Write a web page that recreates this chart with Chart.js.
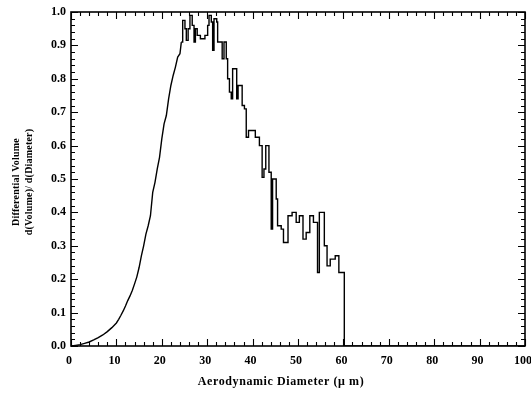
<!DOCTYPE html>
<html>
<head>
<meta charset="utf-8">
<script src="https://cdn.jsdelivr.net/npm/chart.js@4.4.1/dist/chart.umd.min.js"></script>
<style>
  html, body { margin: 0; padding: 0; background: #fff; }
  #wrap { width: 531px; height: 394px; }
</style>
</head>
<body>
<div id="wrap"><canvas id="c"></canvas></div>
<script>
// rising side of the distribution, read as a smooth curve
const risingDiameters = [
  0, 1, 2, 3, 4, 5, 6, 7, 8, 9, 10, 10.5, 11, 11.5, 12, 12.5, 13, 13.5, 14, 14.5,
  15, 15.5, 16, 16.5, 17, 17.5, 18, 18.5, 19, 19.5, 20, 20.5, 21, 21.5, 22, 22.5,
  23, 23.5, 24, 24.3
];
const risingValues = [
  0.0, 0.002, 0.004, 0.008, 0.012, 0.018, 0.025, 0.033, 0.043, 0.055, 0.069, 0.08, 0.092, 0.105, 0.12, 0.136, 0.15, 0.166, 0.186, 0.207,
  0.235, 0.27, 0.30, 0.335, 0.36, 0.39, 0.46, 0.49, 0.53, 0.565, 0.62, 0.665, 0.69, 0.74, 0.78, 0.81,
  0.835, 0.865, 0.875, 0.91
];

// stepped bins from the peak on (left edge, value)
const binEdges = [
  24.3, 24.6, 25.1, 25.4, 25.8, 26.2, 26.7, 27.1, 27.4, 27.8, 28.5,
  29.5, 30.1, 30.4, 30.9, 31.2, 31.5, 32.1, 32.3, 33.3, 33.7, 34.2, 34.5, 34.9, 35.3,
  35.6, 36.5, 36.8, 37.7, 38.2, 38.6, 39.1, 40.6, 41.5, 42.1, 42.5, 42.9, 43.6, 44.1,
  44.4, 45.2, 45.5, 46.3, 46.8, 47.8, 48.7, 49.6, 50.3, 51.1, 51.8, 52.6, 53.4, 54.3,
  54.7, 55.8, 56.4, 57.1, 58.2, 59.0, 60.2, 100
];
const binValues = [
  0.91, 0.975, 0.95, 0.915, 0.95, 0.99, 0.96, 0.91, 0.95, 0.93, 0.92,
  0.93, 0.96, 0.99, 0.97, 0.885, 0.98, 0.97, 0.91, 0.86, 0.91, 0.86, 0.80, 0.76, 0.74,
  0.83, 0.74, 0.78, 0.72, 0.71, 0.625, 0.645, 0.625, 0.60, 0.505, 0.53, 0.60, 0.52, 0.35,
  0.50, 0.44, 0.36, 0.35, 0.31, 0.39, 0.40, 0.37, 0.39, 0.32, 0.34, 0.39, 0.37, 0.22,
  0.40, 0.30, 0.24, 0.26, 0.27, 0.22, 0.0, 0.0
];

const xTickValues = [0, 10, 20, 30, 40, 50, 60, 70, 80, 90, 100];
const xTickLabels = ['0', '10', '20', '30', '40', '50', '60', '70', '80', '90', '100'];
const yTickValues = [0, 0.1, 0.2, 0.3, 0.4, 0.5, 0.6, 0.7, 0.8, 0.9, 1.0];
const yTickLabels = ['0.0', '0.1', '0.2', '0.3', '0.4', '0.5', '0.6', '0.7', '0.8', '0.9', '1.0'];

const xTitle = 'Aerodynamic Diameter (\u03BC m)';
const yTitleLines = ['Differential Volume', 'd(Volume)/ d(Diameter)'];

const serif = '"Liberation Serif", "DejaVu Serif", serif';

// frame, inward ticks and axis titles
const frameAndTitles = {
  id: 'frameAndTitles',
  afterDraw: (chart) => {
    const { ctx, chartArea: { left, right, top, bottom }, scales: { x, y } } = chart;
    ctx.save();
    ctx.strokeStyle = '#000';
    ctx.lineWidth = 1.6;
    ctx.strokeRect(left, top, right - left, bottom - top);

    ctx.lineWidth = 1.1;
    ctx.beginPath();
    // x ticks every 2, major every 10
    for (let v = 0; v <= 100; v += 2) {
      const px = Math.round(x.getPixelForValue(v)) + 0.5;
      const len = v % 10 === 0 ? 7 : 4;
      ctx.moveTo(px, bottom); ctx.lineTo(px, bottom - len);
      ctx.moveTo(px, top); ctx.lineTo(px, top + len);
    }
    // y ticks every 0.02, major every 0.1
    for (let i = 0; i <= 50; i++) {
      const py = Math.round(y.getPixelForValue(i * 0.02)) + 0.5;
      const len = i % 5 === 0 ? 7 : 4;
      ctx.moveTo(left, py); ctx.lineTo(left + len, py);
      ctx.moveTo(right, py); ctx.lineTo(right - len, py);
    }
    ctx.stroke();

    ctx.fillStyle = '#000';
    ctx.textAlign = 'center';
    ctx.textBaseline = 'middle';
    ctx.font = 'bold 12px ' + serif;
    ctx.letterSpacing = '0.6px';
    ctx.fillText(xTitle, 281, 382);

    ctx.font = 'bold 10px ' + serif;
    ctx.letterSpacing = '0.2px';
    ctx.translate(16, 182);
    ctx.rotate(-Math.PI / 2);
    ctx.fillText(yTitleLines[0], 0, 0);
    ctx.fillText(yTitleLines[1], 0, 13);
    ctx.restore();
  }
};

new Chart(document.getElementById('c'), {
  type: 'line',
  data: {
    datasets: [{
      data: risingDiameters.map((d, i) => ({ x: d, y: risingValues[i] })),
      borderColor: '#000',
      borderWidth: 1.4,
      pointRadius: 0,
      fill: false
    }, {
      data: binEdges.map((d, i) => ({ x: d, y: binValues[i] })),
      borderColor: '#000',
      borderWidth: 1.4,
      pointRadius: 0,
      stepped: true,
      fill: false
    }]
  },
  options: {
    responsive: true,
    maintainAspectRatio: false,
    animation: false,
    layout: { padding: { top: 12, right: 6, left: 0, bottom: 0 } },
    scales: {
      x: {
        type: 'linear',
        min: 0,
        max: 100,
        grid: { display: false, drawTicks: false },
        border: { display: false },
        afterBuildTicks: (s) => { s.ticks = xTickValues.map(v => ({ value: v })); },
        afterFit: (s) => { s.height = 48; s.paddingLeft = 0; s.paddingRight = 0; },
        ticks: {
          padding: 8,
          labelOffset: -2,
          maxRotation: 0,
          color: '#000',
          font: { family: serif, size: 12, weight: 'bold' },
          callback: (v, i) => xTickLabels[i]
        }
      },
      y: {
        min: 0,
        max: 1,
        grid: { display: false, drawTicks: false },
        border: { display: false },
        afterBuildTicks: (s) => { s.ticks = yTickValues.map(v => ({ value: v })); },
        afterFit: (s) => { s.width = 71; s.paddingTop = 0; s.paddingBottom = 0; },
        ticks: {
          padding: 5,
          color: '#000',
          font: { family: serif, size: 12, weight: 'bold' },
          callback: (v, i) => yTickLabels[i]
        }
      }
    },
    plugins: {
      legend: { display: false },
      tooltip: { enabled: false }
    }
  },
  plugins: [frameAndTitles]
});
</script>
</body>
</html>
